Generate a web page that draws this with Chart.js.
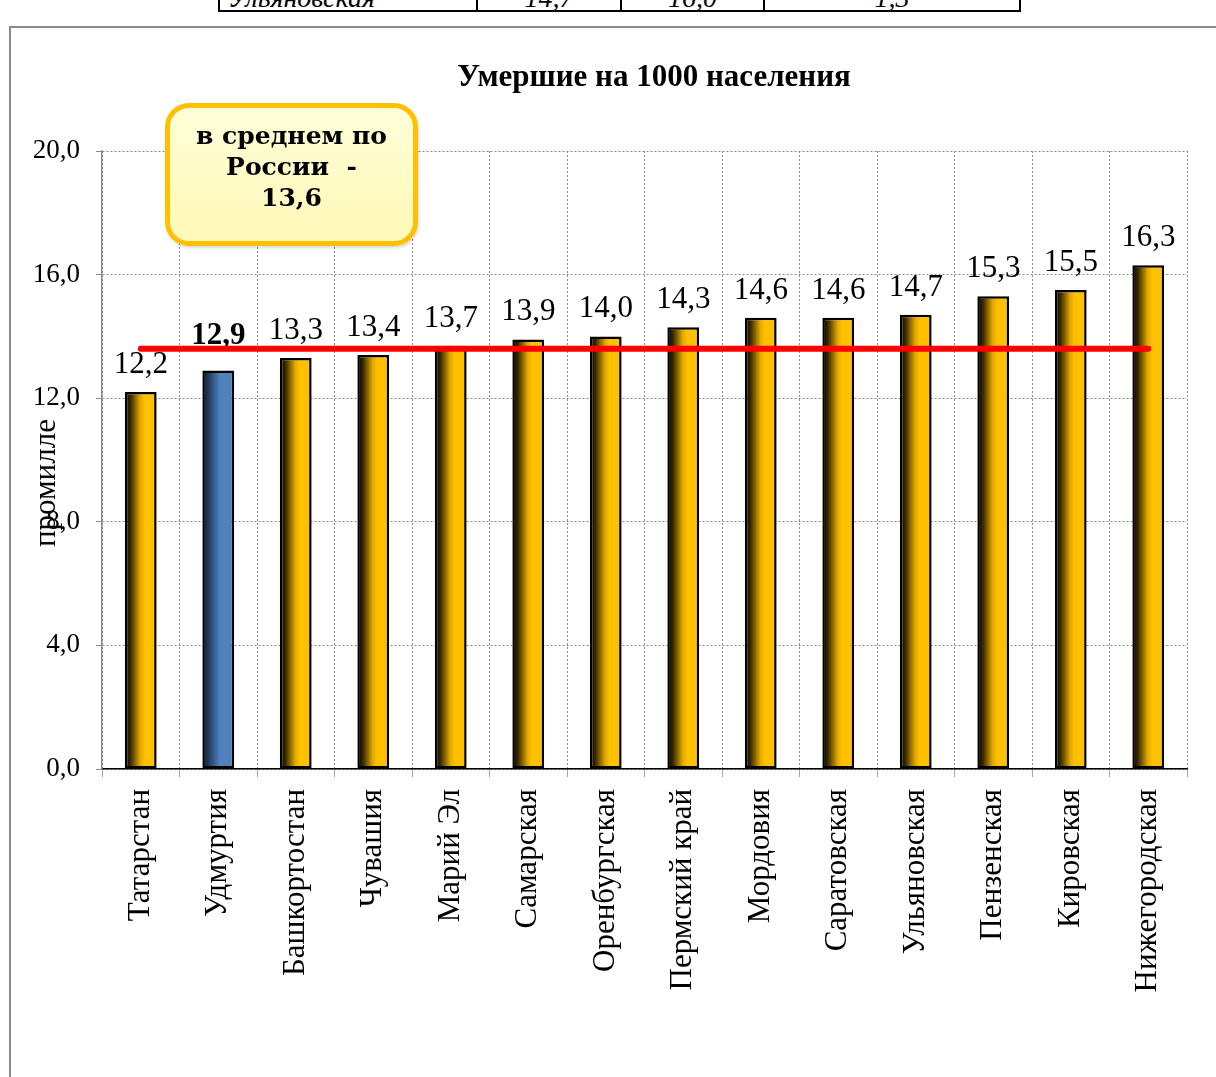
<!DOCTYPE html>
<html>
<head>
<meta charset="utf-8">
<script src="https://cdn.jsdelivr.net/npm/chart.js@4"></script>
<style>
    html, body { margin: 0; padding: 0; background: #fff; }
    #wrap { position: relative; width: 1216px; height: 1077px; overflow: hidden; font-family: "Liberation Serif", "Times New Roman", serif; }
    #chartCanvas { position: absolute; left: 0; top: 0; }
    .frame { position: absolute; left: 9px; top: 26px; right: -5px; bottom: -5px; border-left: 2px solid #8a8a8a; border-top: 2px solid #8a8a8a; }
    .tbl { position: absolute; left: 218px; top: -20px; border-collapse: collapse; font-style: italic; font-size: 28px; }
    .tbl td { border: 2px solid #000; border-top: none; height: 30px; padding: 0 8px; text-align: center; line-height: 24px; vertical-align: bottom; }
    .title { position: absolute; left: 304px; width: 700px; top: 58px; text-align: center; font-weight: bold; font-size: 31px; }
    .ylab { position: absolute; left: 45px; top: 483px; transform: translate(-50%, -50%) rotate(-90deg); font-size: 31px; white-space: nowrap; }
    .note { position: absolute; left: 165px; top: 103px; width: 243px; height: 133px; border: 5px solid #FFC000; border-radius: 24px;
            background: linear-gradient(#FFFFD8, #FFF8B8); text-align: center; font-family: "DejaVu Serif", serif; font-weight: bold;
            font-size: 25px; line-height: 31px; box-sizing: content-box; box-shadow: 1px 2px 3px rgba(0,0,0,0.15); }
    .note div:first-child { margin-top: 12px; }
</style>
</head>
<body>
<div id="wrap">
    <table class="tbl">
        <tr><td style="width:240px;text-align:left">Ульяновская</td><td style="width:126px">14,7</td><td style="width:125px">16,0</td><td style="width:238px">1,3</td></tr>
    </table>
    <div class="frame"></div>
    <canvas id="chartCanvas" width="1216" height="1077"></canvas>
    <div class="title">Умершие на 1000 населения</div>
    <div class="ylab">промилле</div>
    <div class="note"><div>в среднем по</div><div>России&nbsp; -</div><div>13,6</div></div>
</div>
<script>
// регионы и значения (умершие на 1000 населения)
const regions = ["Татарстан", "Удмуртия", "Башкортостан", "Чувашия", "Марий Эл", "Самарская", "Оренбургская",
    "Пермский край", "Мордовия", "Саратовская", "Ульяновская", "Пензенская", "Кировская", "Нижегородская"];
const deathRates = [12.2, 12.9, 13.3, 13.4, 13.7, 13.9, 14.0, 14.3, 14.6, 14.6, 14.7, 15.3, 15.5, 16.3];
// средний уровень по России
const russiaAverage = [13.6, 13.6, 13.6, 13.6, 13.6, 13.6, 13.6, 13.6, 13.6, 13.6, 13.6, 13.6, 13.6, 13.6];
const yTicks = [0, 4, 8, 12, 16, 20];
const highlightRegion = "Удмуртия";

const BAR_PCT = 0.41;
const fmt = v => v.toFixed(1).replace(".", ",");

// градиент столбца: темный край слева, яркий центр
function barFill(context) {
    const chart = context.chart;
    const isBlue = regions[context.dataIndex] === highlightRegion;
    if (!chart.chartArea || !chart.scales.x) return isBlue ? "#4F81BD" : "#FFC000";
    const xs = chart.scales.x;
    const cw = xs.width / regions.length;
    const bw = cw * BAR_PCT;
    const cx = xs.getPixelForValue(context.dataIndex);
    const g = chart.ctx.createLinearGradient(cx - bw / 2, 0, cx + bw / 2, 0);
    if (isBlue) {
        g.addColorStop(0, "#0c1624");
        g.addColorStop(0.3, "#2f4f78");
        g.addColorStop(0.55, "#4F81BD");
        g.addColorStop(0.9, "#4F81BD");
        g.addColorStop(1, "#3f6aa0");
    } else {
        g.addColorStop(0, "#000000");
        g.addColorStop(0.18, "#3a2a00");
        g.addColorStop(0.48, "#e0a800");
        g.addColorStop(0.62, "#FFC000");
        g.addColorStop(0.9, "#FFC000");
        g.addColorStop(1, "#d9a300");
    }
    return g;
}

// подписи значений над столбцами
const valueLabels = {
    id: "valueLabels",
    afterDatasetDraw(chart, args) {
        if (args.index !== 0) return;
        const ctx = chart.ctx;
        const meta = chart.getDatasetMeta(0);
        ctx.save();
        ctx.textAlign = "center";
        ctx.textBaseline = "alphabetic";
        ctx.fillStyle = "#000";
        meta.data.forEach((bar, i) => {
            const bold = regions[i] === highlightRegion;
            ctx.font = (bold ? "bold " : "") + "31px 'Liberation Serif', serif";
            ctx.fillText(fmt(deathRates[i]), bar.x, bar.y - (bold ? 26 : 19));
        });
        ctx.restore();
    }
};

const ctx = document.getElementById("chartCanvas").getContext("2d");

new Chart(ctx, {
    data: {
        labels: regions,
        datasets: [
            {
                type: "bar",
                label: "Умершие на 1000 населения",
                data: deathRates,
                backgroundColor: barFill,
                borderColor: "#000",
                borderWidth: 2.5,
                borderSkipped: false,
                barPercentage: BAR_PCT,
                categoryPercentage: 1,
                order: 1
            },
            {
                type: "line",
                label: "в среднем по России",
                data: russiaAverage,
                borderColor: "#FF0000",
                borderWidth: 6,
                borderCapStyle: "round",
                pointRadius: 0,
                fill: false,
                order: 0
            }
        ]
    },
    options: {
        responsive: false,
        animation: false,
        devicePixelRatio: 1,
        layout: { padding: { top: 151, right: 29, left: 0, bottom: 0 } },
        plugins: {
            legend: { display: false },
            title: { display: false },
            tooltip: { enabled: false }
        },
        scales: {
            x: {
                afterFit: s => { s.height = 308; },
                grid: {
                    offset: true,
                    color: "#8a8a8a",
                    tickLength: 8,
                    tickColor: "#8a8a8a",
                    tickBorderDash: [1, 0]
                },
                border: { color: "#000", width: 1.5, dash: [2, 2] },
                ticks: {
                    minRotation: 90,
                    maxRotation: 90,
                    padding: 12,
                    color: "#000",
                    font: { family: "'Liberation Serif', serif", size: 31 }
                }
            },
            y: {
                min: 0,
                max: 20,
                afterFit: s => { s.width = 102; },
                afterBuildTicks: s => { s.ticks = yTicks.map(v => ({ value: v })); },
                grid: {
                    color: "#8a8a8a",
                    tickLength: 6,
                    tickColor: "#8a8a8a",
                    tickBorderDash: [1, 0]
                },
                border: { color: "#8a8a8a", width: 1.5, dash: [2, 2] },
                ticks: {
                    padding: 16,
                    color: "#000",
                    font: { family: "'Liberation Serif', serif", size: 27 },
                    callback: v => fmt(v)
                }
            }
        }
    },
    plugins: [valueLabels]
});
</script>
</body>
</html>
